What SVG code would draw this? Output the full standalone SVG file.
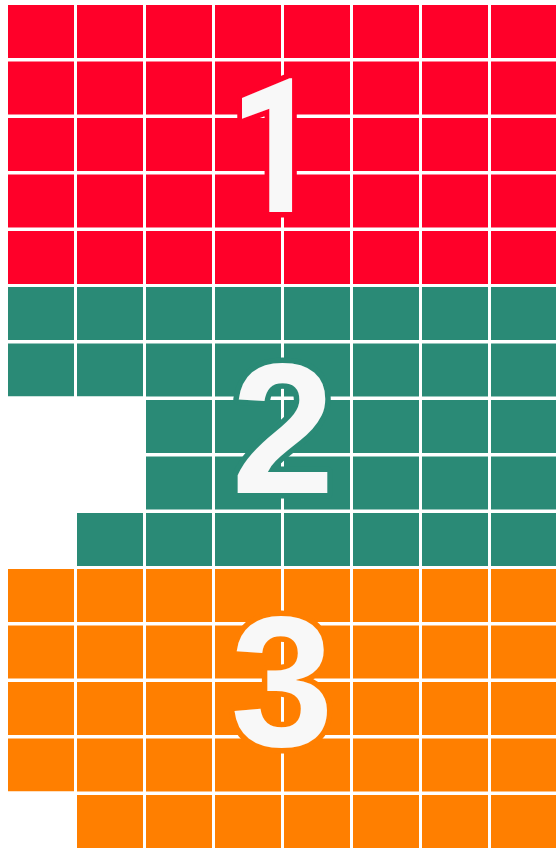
<svg xmlns="http://www.w3.org/2000/svg" width="556" height="848" viewBox="0 0 556 848">
<style>
.grid{fill:#ffffff}
.num{font-family:"Liberation Sans",Arial,sans-serif;font-weight:bold;font-size:186px;fill:#f8f8f8;text-anchor:middle;stroke-width:11;stroke-linejoin:round;paint-order:stroke}
.one{font-family:Roboto,"Liberation Sans",Arial,sans-serif;font-size:188px}
</style>
<rect width="556" height="848" fill="#ffffff"/>
<g id="block1">
<rect x="8" y="5" width="548" height="279" fill="#ff0029"/>
</g>
<g id="block2">
<polygon points="8,287 556,287 556,566 77,566 77,513 146,513 146,400 146,396.5 8,396.5" fill="#2a8a76"/>
</g>
<g id="block3">
<polygon points="8,569 556,569 556,848 77,848 77,791.5 8,791.5" fill="#ff7f00"/>
</g>
<g id="gridlines" class="grid">
<rect x="74" y="0" width="3" height="848"/>
<rect x="143" y="0" width="3" height="848"/>
<rect x="212" y="0" width="3" height="848"/>
<rect x="281" y="0" width="3" height="848"/>
<rect x="350" y="0" width="3" height="848"/>
<rect x="419" y="0" width="3" height="848"/>
<rect x="488" y="0" width="3" height="848"/>
<rect x="0" y="58" width="556" height="3.5"/>
<rect x="0" y="114.5" width="556" height="3.5"/>
<rect x="0" y="171" width="556" height="3.5"/>
<rect x="0" y="227.5" width="556" height="3.5"/>
<rect x="0" y="340" width="556" height="3.5"/>
<rect x="0" y="396.5" width="556" height="3.5"/>
<rect x="0" y="453" width="556" height="3.5"/>
<rect x="0" y="509.5" width="556" height="3.5"/>
<rect x="0" y="622" width="556" height="3.5"/>
<rect x="0" y="678.5" width="556" height="3.5"/>
<rect x="0" y="735" width="556" height="3.5"/>
<rect x="0" y="791.5" width="556" height="3.5"/>
</g>
<g id="label1" transform="translate(270,0) scale(0.86,1)"><text class="num one" x="6" y="212" stroke="#ff0029">1</text></g>
<g id="label2"><text class="num" x="283" y="493" stroke="#2a8a76">2</text></g>
<g id="label3"><text class="num" x="282" y="746" stroke="#ff7f00">3</text></g>
</svg>
